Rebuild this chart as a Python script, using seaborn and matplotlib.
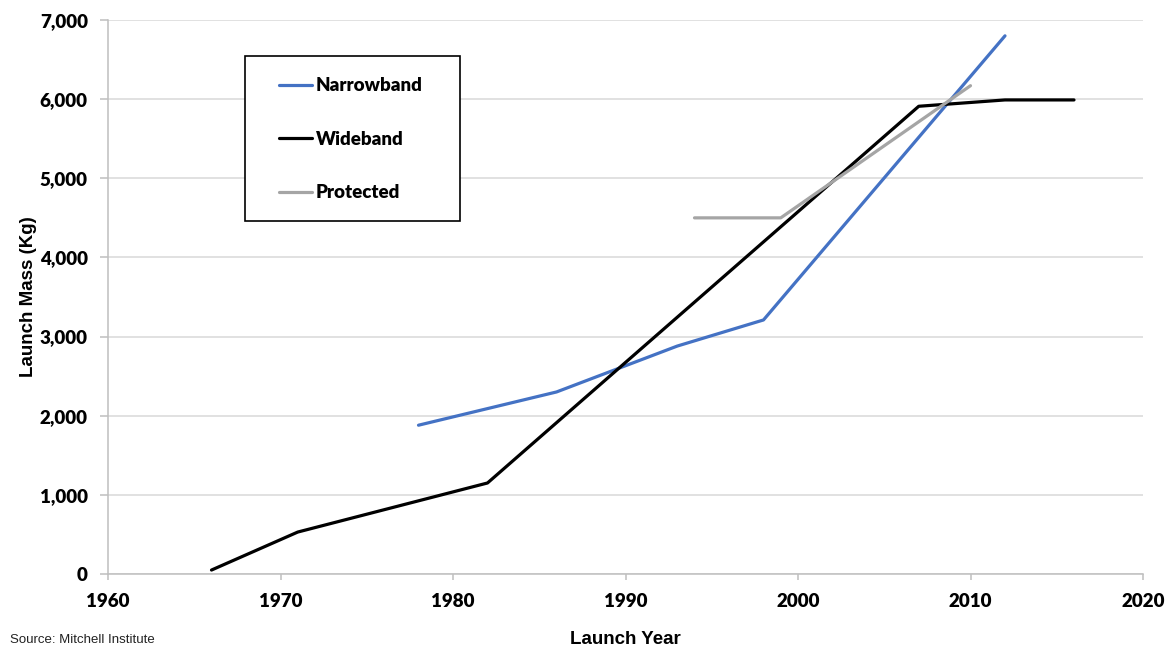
import matplotlib
matplotlib.use("Agg")
import matplotlib.pyplot as plt
from matplotlib.patches import Rectangle
import seaborn as sns
import pandas as pd

# Data
narrow_years = [1978, 1986, 1993, 1998, 2012]
narrow_mass = [1880, 2300, 2880, 3210, 6800]
wide_years = [1966, 1971, 1982, 2007, 2012, 2016]
wide_mass = [50, 530, 1150, 5910, 5990, 5990]
prot_years = [1994, 1999, 2010]
prot_mass = [4500, 4500, 6170]
series_names = ["Narrowband", "Wideband", "Protected"]
series_colors = ["#4472C4", "#000000", "#A5A5A5"]
x_ticks = [1960, 1970, 1980, 1990, 2000, 2010, 2020]
y_ticks = [0, 1000, 2000, 3000, 4000, 5000, 6000, 7000]

df = pd.concat([
    pd.DataFrame({"year": narrow_years, "mass": narrow_mass, "series": series_names[0]}),
    pd.DataFrame({"year": wide_years, "mass": wide_mass, "series": series_names[1]}),
    pd.DataFrame({"year": prot_years, "mass": prot_mass, "series": series_names[2]}),
], ignore_index=True)

sns.set_theme(style="white")
plt.rcParams["font.family"] = ["Lato", "DejaVu Sans"]

fig = plt.figure(figsize=(11.65, 6.48), dpi=100)
ax = fig.add_axes([108 / 1165, 1 - 574 / 648, 1035 / 1165, 554 / 648])

sns.lineplot(data=df, x="year", y="mass", hue="series", hue_order=series_names,
             palette=dict(zip(series_names, series_colors)), linewidth=2.3,
             ax=ax, sort=False, estimator=None, legend=True)

ax.set_xlim(1960, 2020)
ax.set_ylim(0, 7000)
ax.set_xticks(x_ticks)
ax.set_yticks(y_ticks)
ax.set_yticklabels([f"{v:,}" for v in y_ticks])
ax.grid(axis="y", color="#d9d9d9", linewidth=1.1, zorder=0)
ax.set_axisbelow(True)
for s in ["top", "right"]:
    ax.spines[s].set_visible(False)
for s in ["left", "bottom"]:
    ax.spines[s].set_color("#bfbfbf")
    ax.spines[s].set_linewidth(1.1)
ax.tick_params(axis="x", which="major", bottom=True, length=4.5, width=1.1,
               color="#bfbfbf", pad=9, labelsize=13.5)
ax.tick_params(axis="y", which="major", left=True, length=5.5, width=1.1,
               color="#bfbfbf", pad=9, labelsize=13.5)
for lab in ax.get_xticklabels() + ax.get_yticklabels():
    lab.set_fontweight("heavy")
    lab.set_color("black")

ax.set_xlabel("Launch Year", fontsize=13.5, fontweight="bold",
              family="Liberation Sans", labelpad=15.5, color="black")
ax.set_ylabel("Launch Mass (Kg)", fontsize=13.5, fontweight="bold",
              family="Liberation Sans", labelpad=2, color="black")

# Legend box
ax.add_patch(Rectangle((0.1324, 0.637), 0.2077, 0.298, transform=ax.transAxes,
                       facecolor="white", edgecolor="black", linewidth=1.2,
                       zorder=3))
handles, labels = ax.get_legend_handles_labels()
leg = ax.legend(handles, labels, loc="upper left",
                bbox_to_anchor=(0.1653, 0.8965), frameon=False,
                prop={"family": "Lato", "weight": "heavy", "size": 13.5},
                labelspacing=1.95, handlelength=1.75, handletextpad=0.2,
                borderpad=0, borderaxespad=0)
leg.set_zorder(4)
for line in leg.get_lines():
    line.set_linewidth(2.3)
for t in leg.get_texts():
    t.set_color("black")

fig.text(10 / 1165, 1 - 640 / 648, "Source: Mitchell Institute",
         fontsize=9.5, family="Liberation Sans", va="center", ha="left",
         color="#222222")

fig.savefig("out.png", dpi=100)
